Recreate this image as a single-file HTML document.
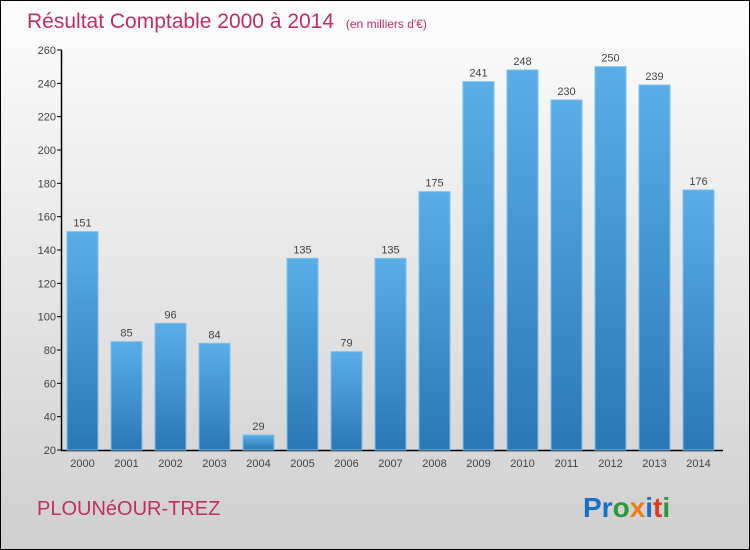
<!DOCTYPE html>
<html><head><meta charset="utf-8"><style>
body{margin:0;width:750px;height:550px;overflow:hidden;font-family:"Liberation Sans",sans-serif}
#wrap{position:relative;width:748px;height:548px;border:1px solid #000;background:linear-gradient(#fdfdfd,#cfcfcf)}
svg{position:absolute;left:0;top:0}
</style></head><body>
<div id="wrap">
<svg id="chart" width="748" height="548">
<defs><linearGradient id="bg" x1="0" y1="0" x2="0" y2="1"><stop offset="0" stop-color="#5aaee8"/><stop offset="1" stop-color="#2a78b5"/></linearGradient></defs>
<text x="26" y="27" font-size="21" fill="#c0305e">Résultat Comptable 2000 à 2014 <tspan font-size="12" dx="6">(en milliers d'€)</tspan></text>
<text x="36" y="514" font-size="20" fill="#c0305e">PLOUNéOUR-TREZ</text>
<text x="582" y="516" font-size="28" font-weight="bold"><tspan fill="#1a6fc7">Pr</tspan><tspan fill="#2a9a3a">o</tspan><tspan fill="#f07a10">x</tspan><tspan fill="#1a6fc7">i</tspan><tspan fill="#e03a1a">t</tspan><tspan fill="#2a9a3a">i</tspan></text>
<g id="plot"></g>
</svg></div>
<script>
const years=["2000","2001","2002","2003","2004","2005","2006","2007","2008","2009","2010","2011","2012","2013","2014"];
const values=[151,85,96,84,29,135,79,135,175,241,248,230,250,239,176];
const yTicks=[20,40,60,80,100,120,140,160,180,200,220,240,260];
const NS="http://www.w3.org/2000/svg";
const g=document.getElementById('plot');
const y=v=>449-(v-20)*(400/240);
const x=i=>66+i*44;
function el(t,a){const e=document.createElementNS(NS,t);for(const k in a)e.setAttribute(k,a[k]);g.appendChild(e);return e;}
const ax=el('line',{x1:60.5,y1:49,x2:60.5,y2:449.5,stroke:'#000','stroke-width':1.5});


const bx=el('line',{x1:60,y1:449.5,x2:722,y2:449.5,stroke:'#000','stroke-width':1.5});


yTicks.forEach(t=>{
 el('line',{x1:56,x2:61,y1:y(t),y2:y(t),stroke:'#000'});
 const tx=el('text',{x:55,y:y(t)+4,'font-size':11,fill:'#444','text-anchor':'end'});tx.textContent=t;
 
 
});
values.forEach((v,i)=>{
 const r=el('rect',{x:x(i),y:y(v),width:31,height:y(20)-y(v),fill:'url(#bg)',stroke:'#7cc0ee','stroke-width':1});
 
 
 const lv=el('text',{x:x(i)+15.5,y:y(v)-5,'font-size':11,fill:'#444','text-anchor':'middle'});lv.textContent=v;
 
 
 const lx=el('text',{x:x(i)+15.5,y:466,'font-size':11,fill:'#444','text-anchor':'middle'});lx.textContent=years[i];
 
 
});
</script>
</body></html>
